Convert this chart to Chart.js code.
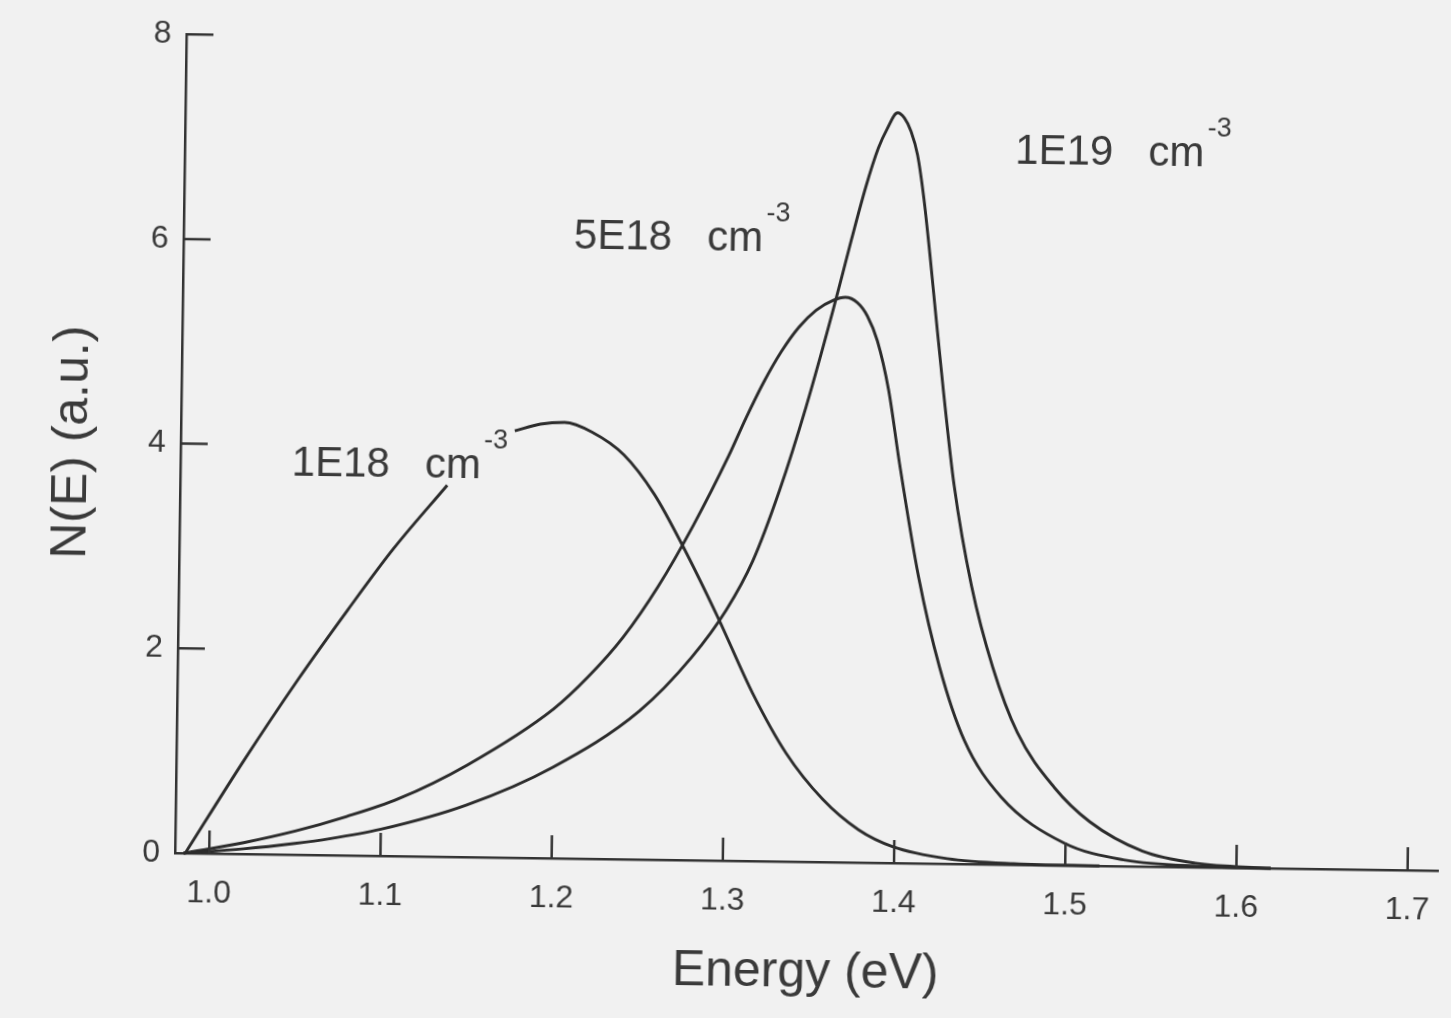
<!DOCTYPE html>
<html>
<head>
<meta charset="utf-8">
<title>N(E) vs Energy</title>
<script src="https://cdn.jsdelivr.net/npm/chart.js@4.4.0/dist/chart.umd.min.js"></script>
<style>
  html, body { margin: 0; padding: 0; background: #f1f1f1; overflow: hidden; }
  #wrap { width: 1451px; height: 1018px; }
  /* the scanned figure sits slightly rotated on the page */
  #plot { display: block; transform: rotate(0.8deg); transform-origin: 175px 853px; }
</style>
</head>
<body>
<div id="wrap"><canvas id="plot" width="1451" height="1018"></canvas></div>
<script>
/* ------------------------------------------------------------------ */
/*  Data                                */
/* ------------------------------------------------------------------ */

var E_1E18 = [0.986, 1.019, 1.050, 1.079, 1.105, 1.136, 1.155, 1.175, 1.190, 1.204, 1.220,
              1.239, 1.257, 1.274, 1.295, 1.316, 1.336, 1.358, 1.379, 1.399, 1.431, 1.470, 1.520];
var N_1E18 = [0.00, 0.90, 1.70, 2.40, 3.00, 3.63, null, 4.17, 4.24, 4.26, 4.17,
              3.95, 3.57, 3.07, 2.38, 1.64, 1.06, 0.61, 0.32, 0.16, 0.05, 0.01, 0.00];

var E_5E18 = [0.985, 1.020, 1.050, 1.080, 1.110, 1.150, 1.200, 1.220, 1.240, 1.260, 1.280,
              1.300, 1.310, 1.320, 1.330, 1.340, 1.350, 1.360, 1.367, 1.374, 1.380, 1.386,
              1.393, 1.400, 1.412, 1.425, 1.440, 1.462, 1.499, 1.535, 1.580, 1.620];
var N_5E18 = [0.00, 0.11, 0.23, 0.38, 0.56, 0.90, 1.46, 1.78, 2.17, 2.67, 3.27,
              3.95, 4.33, 4.68, 4.98, 5.22, 5.39, 5.49, 5.52, 5.47, 5.34, 5.10,
              4.62, 3.90, 2.80, 1.92, 1.21, 0.66, 0.22, 0.06, 0.01, 0.00];

var E_1E19 = [0.985, 1.020, 1.050, 1.070, 1.100, 1.150, 1.200, 1.250, 1.280, 1.300, 1.315,
              1.330, 1.345, 1.360, 1.370, 1.378, 1.385, 1.390, 1.396, 1.400, 1.404, 1.408,
              1.412, 1.416, 1.420, 1.425, 1.432, 1.443, 1.456, 1.471, 1.493, 1.514, 1.545,
              1.576, 1.620];
var N_1E19 = [0.00, 0.05, 0.11, 0.16, 0.26, 0.51, 0.89, 1.45, 1.98, 2.45, 2.93,
              3.62, 4.45, 5.40, 6.08, 6.60, 6.98, 7.17, 7.33, 7.28, 7.15, 6.92,
              6.50, 5.95, 5.35, 4.62, 3.70, 2.72, 1.93, 1.29, 0.76, 0.43, 0.15,
              0.04, 0.00];

var CURVE_LABELS = ['1E18   cm', '5E18   cm', '1E19   cm'];
var LABEL_E      = [1.045, 1.208, 1.465];
var LABEL_N      = [3.70, 5.96, 6.85];

var X_MIN = 0.98, X_MAX = 1.718;
var Y_MIN = 0, Y_MAX = 8;

/* ------------------------------------------------------------------ */
/*  Styling                                                           */
/* ------------------------------------------------------------------ */

var FONT_FAMILY = '"Liberation Sans", Arial, Helvetica, sans-serif';
var TEXT_COLOR = '#3a3a3a';
var LINE_COLOR = '#2c2c2c';
var AXIS_COLOR = '#333333';

function toPoints(es, ns) {
  return es.map(function (e, i) { return { x: e, y: ns[i] }; });
}

/** Tick marks that point into the plot, as in the original figure. */
var inwardTicks = {
  id: 'inwardTicks',
  afterDraw: function (chart) {
    var ctx = chart.ctx, xs = chart.scales.x, ys = chart.scales.y;
    ctx.save();
    ctx.strokeStyle = AXIS_COLOR;
    ctx.lineWidth = 2.5;
    ctx.beginPath();
    xs.ticks.forEach(function (t) {
      var px = xs.getPixelForValue(t.value);
      ctx.moveTo(px, xs.top);
      ctx.lineTo(px, xs.top - 23);
    });
    ys.ticks.forEach(function (t) {
      if (t.value === 0) return;
      var py = ys.getPixelForValue(t.value);
      ctx.moveTo(ys.right, py);
      ctx.lineTo(ys.right + 27, py);
    });
    ctx.stroke();
    ctx.restore();
  }
};

/** Concentration labels with a raised "-3" exponent. */
var curveLabels = {
  id: 'curveLabels',
  afterDraw: function (chart) {
    var ctx = chart.ctx, xs = chart.scales.x, ys = chart.scales.y;
    ctx.save();
    ctx.fillStyle = TEXT_COLOR;
    ctx.textBaseline = 'alphabetic';
    ctx.textAlign = 'left';
    CURVE_LABELS.forEach(function (txt, i) {
      var px = xs.getPixelForValue(LABEL_E[i]);
      var py = ys.getPixelForValue(LABEL_N[i]);
      ctx.font = '42px ' + FONT_FAMILY;
      ctx.fillText(txt, px, py);
      var w = ctx.measureText(txt).width;
      ctx.font = '27px ' + FONT_FAMILY;
      ctx.fillText('-3', px + w + 3, py - 30);
    });
    ctx.restore();
  }
};

var datasets = [
  { label: '1E18', data: toPoints(E_1E18, N_1E18) },
  { label: '5E18', data: toPoints(E_5E18, N_5E18) },
  { label: '1E19', data: toPoints(E_1E19, N_1E19) }
].map(function (d) {
  d.borderColor = LINE_COLOR;
  d.borderWidth = 2.9;
  d.fill = false;
  d.pointRadius = 0;
  d.cubicInterpolationMode = 'monotone';
  d.spanGaps = false;
  d.clip = false;
  return d;
});

new Chart(document.getElementById('plot').getContext('2d'), {
  type: 'line',
  data: { datasets: datasets },
  options: {
    responsive: false,
    animation: false,
    events: [],
    layout: { padding: { top: 33, right: 2, left: 0, bottom: 0 } },
    plugins: { legend: { display: false }, tooltip: { enabled: false } },
    scales: {
      x: {
        type: 'linear',
        min: X_MIN,
        max: X_MAX,
        afterFit: function (s) { s.height = 165; },
        border: { display: true, color: AXIS_COLOR, width: 2.5 },
        grid: { drawOnChartArea: false, drawTicks: false },
        ticks: {
          stepSize: 0.1,
          includeBounds: false,
          autoSkip: false,
          maxRotation: 0,
          padding: 21,
          color: TEXT_COLOR,
          font: { family: FONT_FAMILY, size: 32 },
          callback: function (v) { return Number(v).toFixed(1); }
        },
        title: {
          display: true,
          text: 'Energy (eV)',
          color: TEXT_COLOR,
          font: { family: FONT_FAMILY, size: 50 },
          padding: { top: 0, bottom: 24 }
        }
      },
      y: {
        type: 'linear',
        min: Y_MIN,
        max: Y_MAX,
        afterFit: function (s) { s.width = 175; },
        border: { display: true, color: AXIS_COLOR, width: 2.5 },
        grid: { drawOnChartArea: false, drawTicks: false },
        ticks: {
          stepSize: 2,
          padding: 15,
          color: TEXT_COLOR,
          font: { family: FONT_FAMILY, size: 32 }
        },
        title: {
          display: true,
          text: 'N(E) (a.u.)',
          color: TEXT_COLOR,
          font: { family: FONT_FAMILY, size: 50 },
          padding: { top: 37, bottom: 0 }
        }
      }
    }
  },
  plugins: [inwardTicks, curveLabels]
});
</script>
</body>
</html>
